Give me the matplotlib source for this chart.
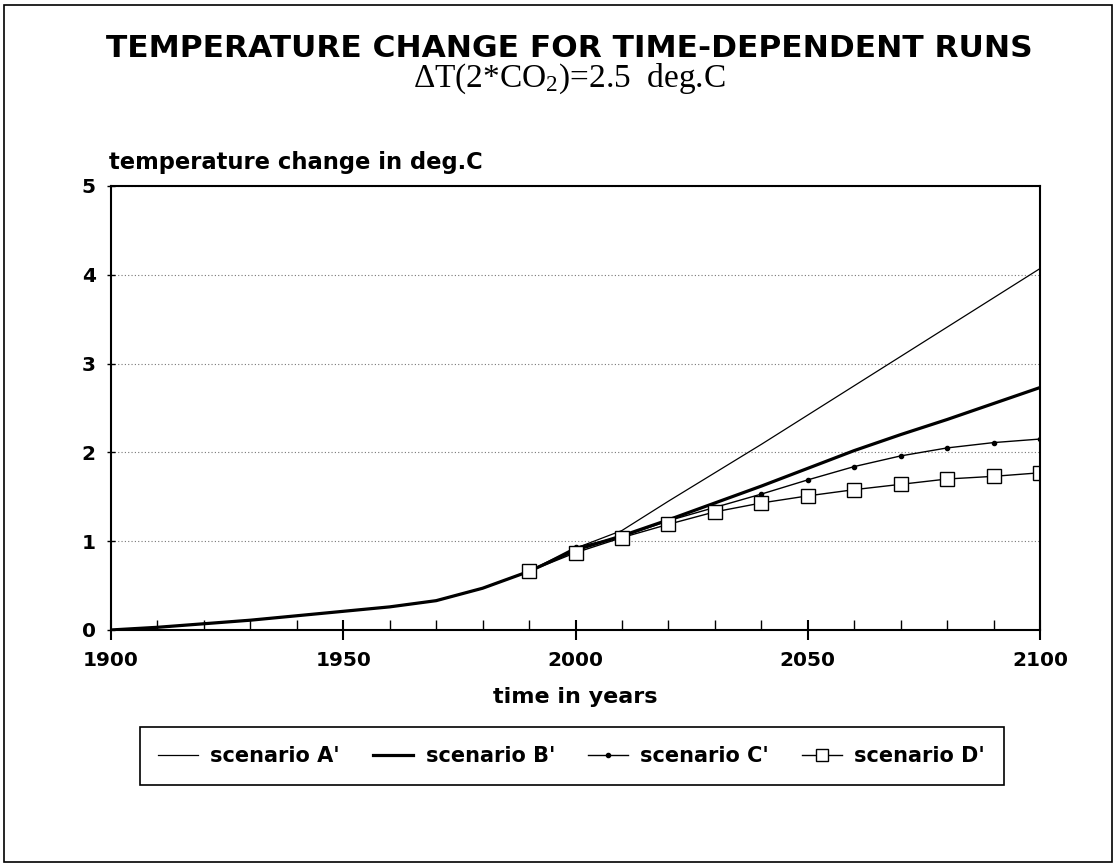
import matplotlib
matplotlib.use('Agg')
import matplotlib.pyplot as plt
import matplotlib.patches as patches
from matplotlib.ticker import MultipleLocator

plt.rcParams['font.family'] = ['DejaVu Sans']
plt.rcParams['mathtext.fontset'] = 'custom'
plt.rcParams['mathtext.rm'] = 'Liberation Serif'
plt.rcParams['mathtext.it'] = 'Liberation Serif:italic'

# years, one point every 10 years
years = [1900, 1910, 1920, 1930, 1940, 1950, 1960, 1970, 1980, 1990,
         2000, 2010, 2020, 2030, 2040, 2050, 2060, 2070, 2080, 2090, 2100]

# common history 1900-1990
history = [0.0, 0.03, 0.07, 0.11, 0.16, 0.21, 0.26, 0.33, 0.47, 0.66]

# scenario values 2000-2100
scen_a = [0.92, 1.12, 1.45, 1.77, 2.09, 2.42, 2.75, 3.08, 3.41, 3.74, 4.07]
scen_b = [0.90, 1.06, 1.24, 1.43, 1.62, 1.82, 2.02, 2.20, 2.37, 2.55, 2.73]
scen_c = [0.93, 1.05, 1.23, 1.38, 1.53, 1.69, 1.84, 1.96, 2.05, 2.11, 2.15]
scen_d = [0.87, 1.04, 1.19, 1.33, 1.43, 1.51, 1.58, 1.64, 1.70, 1.73, 1.77]

labels = ["scenario A'", "scenario B'", "scenario C'", "scenario D'"]

fig = plt.figure(figsize=(11.19, 8.67), dpi=100)
ax = fig.add_axes([0.0992, 0.2734, 0.8302, 0.5121])

marks = list(range(9, len(years)))
ax.plot(years, history + scen_a, color='black', lw=0.9, label=labels[0])
ax.plot(years, history + scen_b, color='black', lw=2.3, label=labels[1])
ax.plot(years, history + scen_c, color='black', lw=1.0, marker='o', ms=3,
        markevery=marks, label=labels[2])
ax.plot(years, history + scen_d, color='black', lw=1.0, marker='s', ms=10,
        mfc='white', mew=1.0, markevery=marks, label=labels[3])

ax.set_xlim(1900, 2100)
ax.set_ylim(0, 5)
ax.xaxis.set_major_locator(MultipleLocator(50))
ax.xaxis.set_minor_locator(MultipleLocator(10))
ax.yaxis.set_major_locator(MultipleLocator(1))
ax.tick_params(axis='x', which='major', direction='inout', length=14, width=1.5,
               labelsize=14.5, pad=8)
ax.tick_params(axis='x', which='minor', direction='in', length=7, width=1.0)
ax.tick_params(axis='y', which='major', direction='inout', length=6, width=1.0,
               labelsize=14.5, pad=8)
for lab in ax.get_xticklabels() + ax.get_yticklabels():
    lab.set_fontweight('bold')
for s in ax.spines.values():
    s.set_linewidth(1.5)
ax.grid(axis='y', linestyle=(0, (1, 2)), color='#777777', lw=0.8)

fig.text(0.509, 0.944, 'TEMPERATURE CHANGE FOR TIME-DEPENDENT RUNS',
         ha='center', va='center', fontsize=22.5, fontweight='bold')
fig.text(0.509, 0.909, r'$\Delta$T(2*CO$_2$)=2.5  deg.C', ha='center', va='center',
         fontsize=24, family='Liberation Serif')
fig.text(0.097, 0.812, 'temperature change in deg.C', ha='left', va='center',
         fontsize=16.3, fontweight='bold')
fig.text(0.514, 0.196, 'time in years', ha='center', va='center',
         fontsize=16, fontweight='bold')

leg = fig.legend(loc='center', bbox_to_anchor=(0.511, 0.128), ncol=4,
                 prop={'weight': 'bold', 'size': 15}, fancybox=False,
                 edgecolor='black', handlelength=1.9, handletextpad=0.6,
                 columnspacing=1.6, borderpad=0.9, framealpha=1)
leg.get_frame().set_linewidth(1.2)
leg.legend_handles[3].set_markersize(8)

fig.patches.append(patches.Rectangle((0.004, 0.006), 0.99, 0.988, fill=False,
                                     ec='black', lw=1.2, transform=fig.transFigure))

plt.savefig('out.png', dpi=100)
